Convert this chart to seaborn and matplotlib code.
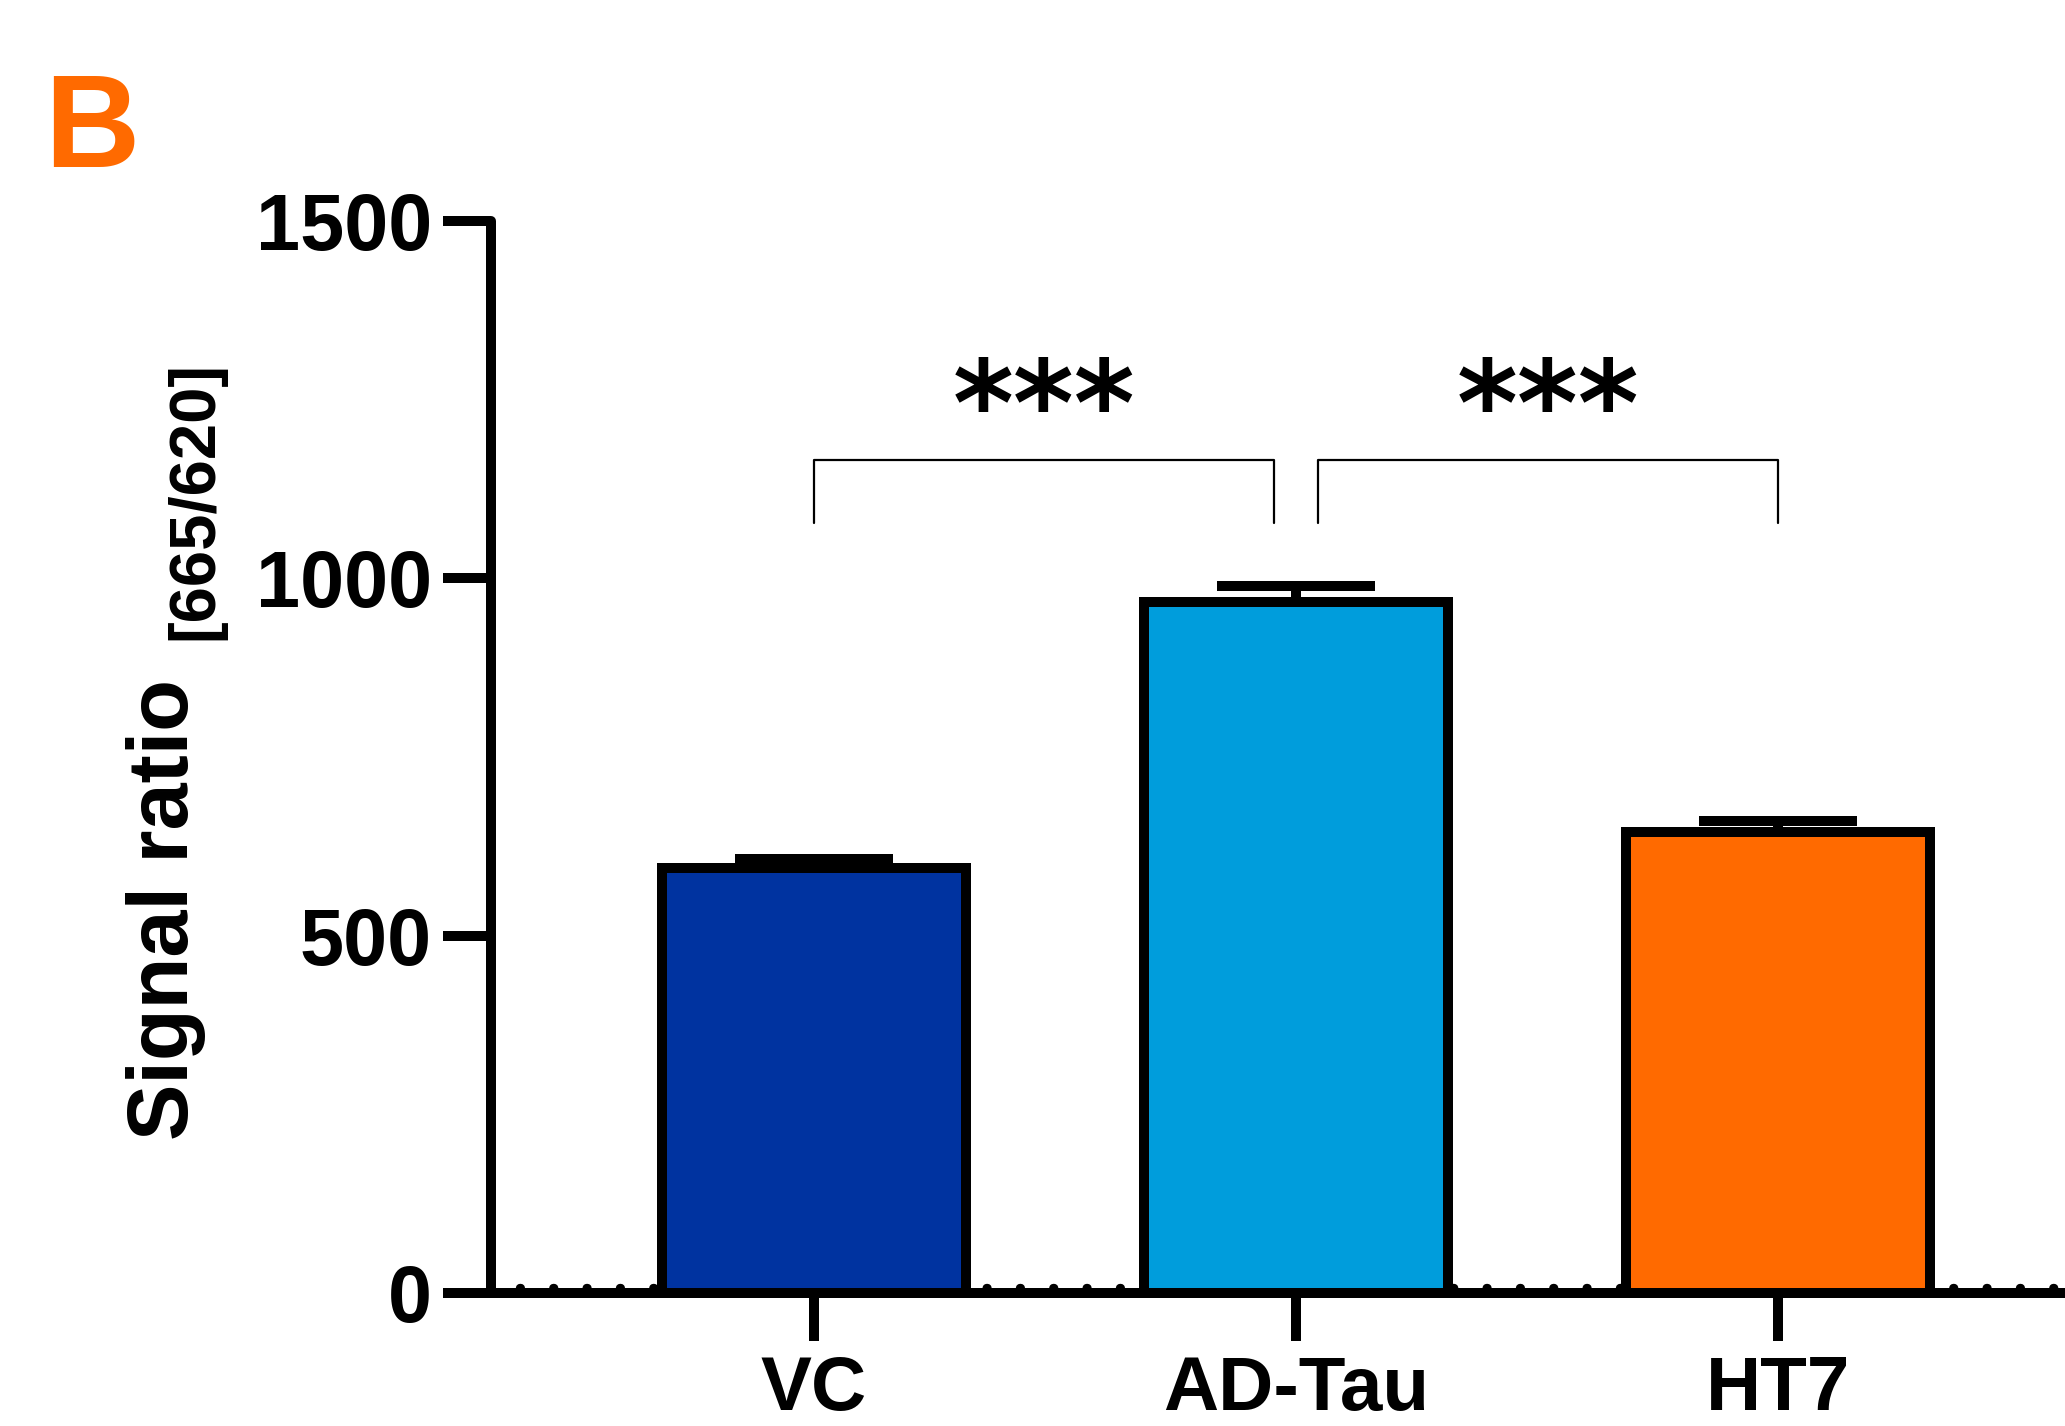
import matplotlib
matplotlib.use('Agg')
import matplotlib.pyplot as plt
import matplotlib.transforms as mtransforms
import seaborn as sns
import pandas as pd
import numpy as np

# valores
grupos = ['VC', 'AD-Tau', 'HT7']
media = [594, 967, 645]
erro = [13, 22, 16]
cores = ['#0033A0', '#009DDC', '#FF6A00']
comparacoes = [(0, 1, '***'), (1, 2, '***')]
yticks = [0, 500, 1000, 1500]

sns.set_theme(style='ticks', rc={'text.color': 'black', 'axes.edgecolor': 'black',
                                 'xtick.color': 'black', 'ytick.color': 'black',
                                 'axes.labelcolor': 'black'})
plt.rcParams['font.family'] = ['Liberation Sans', 'DejaVu Sans']
plt.rcParams['font.weight'] = 'bold'

fig = plt.figure(figsize=(20.65, 14.26), dpi=100)
ax = fig.add_axes([0.2378, 0.0933, 0.7622, 0.7517])

dados = pd.DataFrame({'grupo': grupos, 'media': media})
sns.barplot(data=dados, x='grupo', y='media', hue='grupo', palette=cores,
            legend=False, width=0.63, saturation=1, linewidth=7.2,
            edgecolor='black', ax=ax, zorder=2)

# barras de erro só para cima
x = np.arange(len(grupos))
ax.errorbar(x, media, yerr=[np.zeros(len(erro)), erro], fmt='none',
            ecolor='black', elinewidth=7.2, capsize=57, capthick=7.2, zorder=1)

# linha pontilhada no zero (estilo Prism)
xmin, xmax = -0.67, 2.595
desloc = mtransforms.offset_copy(ax.transData, fig=fig, x=0, y=5, units='dots')
ax.plot([xmin + 0.06, xmax + 0.1], [0, 0], transform=desloc, color='black', lw=6,
        linestyle=(0, (0.1, 3.9)), dash_capstyle='round', zorder=0.5, clip_on=False)

ax.set_xlim(xmin, xmax)
ax.set_ylim(0, 1500)
ax.set_yticks(yticks)
ax.set_xlabel('')
ax.set_ylabel('')

for lado in ['top', 'right']:
    ax.spines[lado].set_visible(False)
for lado in ['left', 'bottom']:
    ax.spines[lado].set_linewidth(7.2)
    ax.spines[lado].set_color('black')
    ax.spines[lado].set_capstyle('round')
    ax.spines[lado].set_zorder(3)

ax.tick_params(axis='both', length=34.5, width=7.2, color='black', labelcolor='black')
ax.tick_params(axis='y', labelsize=57, pad=8)
ax.tick_params(axis='x', labelsize=55, pad=10)
for t in ax.get_xticklabels() + ax.get_yticklabels():
    t.set_fontweight('bold')

# colchetes de significância
for a, b, txt in comparacoes:
    outros = [c for c in comparacoes if c != (a, b, txt)]
    xa = a + (0.045 if any(a in c[:2] for c in outros) else 0)
    xb = b - (0.045 if any(b in c[:2] for c in outros) else 0)
    ax.plot([xa, xa, xb, xb], [1077, 1166, 1166, 1077], color='black', lw=1.6, zorder=4)
    ax.text((xa + xb) / 2, 1232, txt, ha='center', va='center', fontsize=84,
            fontweight='bold', color='black', family='DejaVu Sans')

# rótulo do eixo y com subscrito
fig.text(188 / 2065, 1 - 909 / 1426, 'Signal ratio', rotation=90, rotation_mode='anchor',
         ha='center', va='baseline', fontsize=61, fontweight='bold', color='black')
fig.text(212 / 2065, 1 - 501 / 1426, '[665/620]', rotation=90, rotation_mode='anchor',
         ha='center', va='baseline', fontsize=47, fontweight='bold', color='black')

fig.text(44 / 2065, 1 - 167 / 1426, 'B', ha='left', va='baseline', fontsize=95,
         fontweight='bold', color='#FF6A00')

plt.savefig('out.png', dpi=100)
plt.close()
